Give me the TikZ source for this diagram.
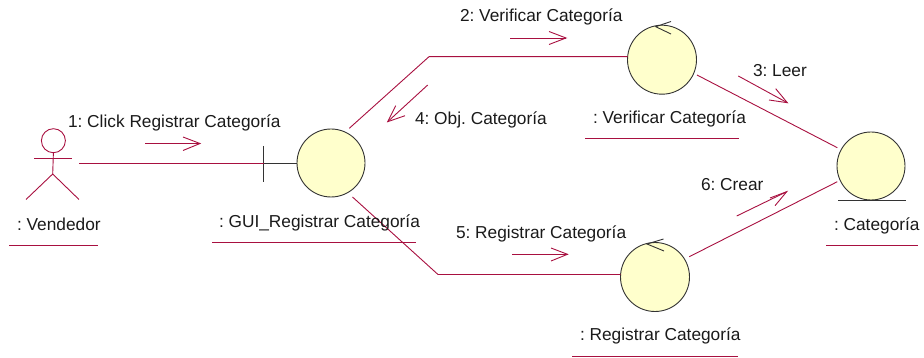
\documentclass[tikz,border=0pt]{standalone}
\usepackage{fontspec}
\setmainfont{Liberation Sans}
\usetikzlibrary{calc}
\definecolor{umlline}{RGB}{168,16,64}
\definecolor{umlfill}{RGB}{255,255,204}
\definecolor{umlink}{RGB}{51,51,51}
\definecolor{umltext}{RGB}{26,26,26}
\tikzset{
  x=1pt,y=-1pt,
  robust/.style={circle,draw=umlink,fill=umlfill,line width=0.9pt,minimum size=68pt,inner sep=0pt,outer sep=0pt},
  wire/.style={draw=umlline,line width=0.9pt},
  grayline/.style={draw=umlink,line width=0.9pt},
  lbl/.style={anchor=base west,inner sep=0pt,outer sep=0pt,text=umltext,font=\fontsize{17.3pt}{19pt}\selectfont\frenchspacing},
}
\newcommand{\msgarrow}[4]{\draw[wire] (#1) -- (#2); \draw[wire] (#3) -- (#2) -- (#4);}
\begin{document}
\begin{tikzpicture}
\useasboundingbox (0,0) rectangle (924,358);
% robustness nodes
\node[robust] (gui) at (331,163) {};
\node[robust,minimum size=69pt] (ver) at (662,59.7) {};
\node[robust,minimum size=69pt] (reg) at (655,277) {};
\node[robust] (cat) at (871,166) {};
% actor
\node[circle,draw=umlline,line width=0.9pt,minimum size=24pt,inner sep=0pt,outer sep=0pt] (head) at (53.4,140.7) {};
\coordinate (hip) at (52.7,174);
\draw[wire] (head.south) -- (hip);
\draw[wire] (34,158) -- (72,158);
\draw[wire] (26,199.5) -- (hip) -- (79,199.5);
% boundary, entity and control decorations
\coordinate (tick) at (263.5,163);
\draw[grayline] (tick) -- (gui.west);
\draw[grayline] (263.5,146) -- (263.5,182);
\draw[grayline] (838,200.7) -- (906,200.7);
\draw[grayline] (671,21.5) -- (655.7,26.7) -- (671,34);
\draw[grayline] (663.5,239) -- (647,244) -- (664,251);
% connectors
\coordinate (actorEnd) at (79,163);
\coordinate (bendA) at (429,56.7);
\coordinate (bendB) at (438,274.5);
\draw[wire] (actorEnd) -- (tick);
\draw[wire] ($(gui)+(18.3,-34.7)$) -- (bendA) -- (ver.west |- bendA);
\draw[wire] ($(gui)+(21.5,34)$) -- (bendB) -- (reg.west |- bendB);
\draw[wire] ($(ver)+(35,15.3)$) -- ($(cat)+(-33.7,-18.3)$);
\draw[wire] ($(reg)+(34.3,-20.3)$) -- ($(cat)+(-33.7,15.7)$);
% message arrows
\msgarrow{145,143.5}{200,143.5}{183,137}{183,150.5}
\msgarrow{510,38}{566,38}{549,31.5}{549,44.5}
\msgarrow{738.3,76}{787.3,102.7}{775.7,88.7}{769,100}
\msgarrow{427.7,85}{387.7,121.7}{395.7,105.7}{405,115.7}
\msgarrow{512,254.3}{567.5,254.3}{551,248}{551,261}
\msgarrow{736.7,216}{786.7,191.7}{775,205.7}{770,198}
% name underlines
\draw[wire] (9,245.3) -- (98,245.3);
\draw[wire] (212,242.3) -- (416,242.3);
\draw[wire] (585,138.3) -- (739,138.3);
\draw[wire] (572,356.3) -- (737.5,356.3);
\draw[wire] (826,245.7) -- (918,245.7);
% labels
\node[lbl] (l1) at (68,128) {1: Click Registrar Categoría};
\node[lbl] (l2) at (460,22) {2: Verificar Categoría};
\node[lbl] (l3) at (753,76.5) {3: Leer};
\node[lbl] (l4) at (415,125) {4: Obj. Categoría};
\node[lbl] (l5) at (456,239) {5: Registrar Categoría};
\node[lbl] (l6) at (701,191) {6: Crear};
\node[lbl] (nVen) at (17,230.7) {: Vendedor};
\node[lbl] (nGui) at (219,228) {: GUI\_Registrar Categoría};
\node[lbl] (nVer) at (593,124) {: Verificar Categoría};
\node[lbl] (nReg) at (580,340.5) {: Registrar Categoría};
\node[lbl] (nCat) at (834,231) {: Categoría};
\end{tikzpicture}
\end{document}
